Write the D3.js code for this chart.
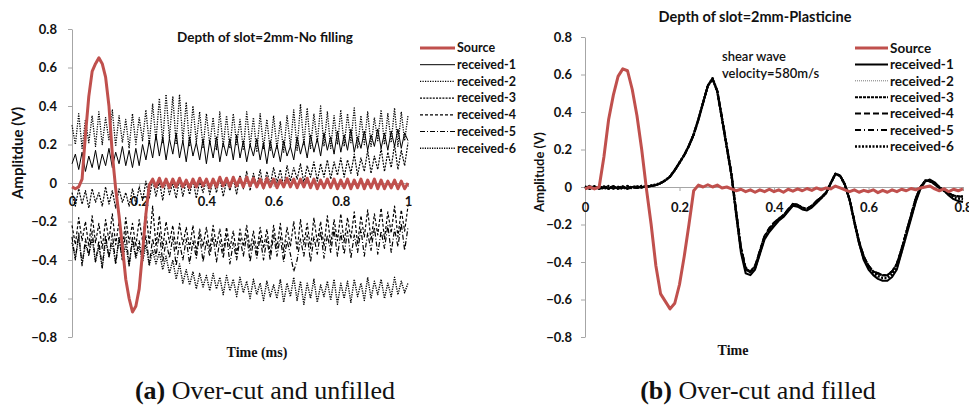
<!DOCTYPE html>
<html>
<head>
<meta charset="utf-8">
<script src="https://cdn.jsdelivr.net/npm/d3@7"></script>
<style>
  body { margin: 0; background: #fff; }
  svg text { font-family: Lato, "Open Sans", sans-serif; }
</style>
</head>
<body>
<svg id="chart" width="969" height="407"></svg>
<script>
// ---------- panel (a): no filling, sampled every 0.01 ms from 0 to 1 ms ----------
var timeA = d3.range(101).map(function(i){ return i / 100; });

var sourceA = [-0.02,-0.03,-0.02,0.02,0.25,0.45,0.58,0.62,0.65,0.62,0.55,0.40,0.15,-0.03,-0.17,-0.33,-0.50,-0.60,-0.67,-0.64,-0.55,-0.36,-0.16,-0.01,0.02,-0.02,
  0.025,-0.02,0.02,-0.025,0.02,-0.02,0.025,-0.02,0.015,-0.025,
  0.02,-0.02,0.025,-0.015,0.02,-0.025,0.02,-0.02,0.03,-0.015,
  0.025,-0.02,0.03,-0.015,0.025,-0.02,0.03,-0.015,0.025,-0.02,
  0.02,-0.025,0.025,-0.02,0.02,-0.025,0.015,-0.02,0.025,-0.02,
  0.02,-0.025,0.02,-0.02,0.025,-0.025,0.02,-0.03,0.015,-0.025,
  0.02,-0.025,0.02,-0.03,0.015,-0.025,0.02,-0.03,0.015,-0.025,
  0.02,-0.03,0.015,-0.025,0.02,-0.03,0.015,-0.03,0.01,-0.025,
  0.015,-0.03,0.01,-0.03,0.0];

var recA1 = [0.10,0.15,0.07,0.16,0.06,0.14,0.08,0.17,0.07,0.15,0.09,0.18,0.08,0.16,0.10,0.19,0.09,0.17,0.08,0.18,0.09,
  0.20,0.12,0.22,0.13,0.25,0.14,0.24,0.12,0.23,0.15,0.26,0.13,0.22,0.11,0.24,0.14,0.21,0.12,0.23,0.10,
  0.22,0.13,0.24,0.11,0.21,0.14,0.23,0.12,0.25,0.13,0.22,0.11,0.20,0.14,0.23,0.12,0.21,0.10,0.22,0.13,
  0.20,0.11,0.22,0.14,0.19,0.12,0.24,0.15,0.22,0.13,0.25,0.16,0.23,0.14,0.26,0.17,0.24,0.15,0.27,0.16,
  0.25,0.17,0.28,0.16,0.24,0.18,0.27,0.17,0.25,0.19,0.28,0.18,0.26,0.17,0.27,0.19,0.28,0.18,0.26,0.22];

var recA2 = [0.30,0.20,0.36,0.18,0.33,0.21,0.35,0.19,0.37,0.20,0.34,0.22,0.38,0.19,0.35,0.21,0.33,0.18,0.36,0.20,0.34,
  0.22,0.38,0.20,0.41,0.22,0.44,0.21,0.46,0.23,0.45,0.20,0.46,0.22,0.42,0.19,0.40,0.21,0.37,0.18,0.36,
  0.20,0.34,0.17,0.37,0.19,0.35,0.18,0.36,0.20,0.33,0.17,0.37,0.19,0.34,0.16,0.36,0.18,0.33,0.17,0.35,
  0.18,0.32,0.16,0.35,0.19,0.38,0.17,0.41,0.20,0.39,0.18,0.36,0.21,0.40,0.19,0.37,0.18,0.35,0.20,0.38,
  0.19,0.36,0.21,0.39,0.18,0.35,0.20,0.37,0.19,0.34,0.22,0.38,0.20,0.36,0.21,0.39,0.19,0.37,0.22,0.35];

var recA3 = [-0.05,-0.12,-0.03,-0.11,-0.04,-0.13,-0.03,-0.10,-0.05,-0.12,-0.02,-0.11,-0.04,-0.13,-0.03,-0.10,-0.05,-0.12,-0.03,-0.11,-0.02,
  -0.09,0.01,-0.08,0.02,-0.07,0.01,-0.09,0.02,-0.06,0.00,-0.08,0.02,-0.07,0.01,-0.06,0.02,-0.08,0.01,-0.05,0.02,
  -0.06,0.02,-0.05,0.03,-0.07,0.01,-0.04,0.03,-0.06,0.04,-0.03,0.06,-0.04,0.05,-0.02,0.07,-0.03,0.06,-0.01,0.08,
  0.00,0.07,-0.02,0.09,0.01,0.08,0.02,0.10,0.00,0.09,0.03,0.11,0.01,0.10,0.03,0.12,0.02,0.11,0.04,0.13,
  0.03,0.12,0.05,0.15,0.04,0.13,0.06,0.17,0.05,0.14,0.07,0.18,0.06,0.16,0.08,0.20,0.07,0.17,0.09,0.21];

var recA4 = [-0.22,-0.32,-0.18,-0.30,-0.20,-0.33,-0.17,-0.31,-0.21,-0.34,-0.19,-0.30,-0.16,-0.32,-0.20,-0.35,-0.18,-0.31,-0.21,-0.33,-0.19,
  -0.30,-0.14,-0.32,-0.12,-0.33,-0.17,-0.34,-0.20,-0.31,-0.22,-0.35,-0.21,-0.32,-0.23,-0.34,-0.22,-0.36,-0.24,-0.33,-0.23,
  -0.35,-0.22,-0.33,-0.24,-0.36,-0.23,-0.34,-0.25,-0.37,-0.24,-0.33,-0.22,-0.35,-0.25,-0.36,-0.23,-0.34,-0.24,-0.37,-0.22,
  -0.34,-0.21,-0.36,-0.23,-0.33,-0.20,-0.35,-0.19,-0.32,-0.21,-0.34,-0.18,-0.31,-0.20,-0.33,-0.17,-0.32,-0.19,-0.30,-0.16,
  -0.31,-0.18,-0.29,-0.15,-0.32,-0.17,-0.28,-0.14,-0.30,-0.16,-0.27,-0.13,-0.29,-0.15,-0.26,-0.12,-0.28,-0.14,-0.25,-0.12];

var recA5 = [-0.28,-0.40,-0.26,-0.43,-0.29,-0.38,-0.25,-0.41,-0.30,-0.44,-0.27,-0.39,-0.26,-0.42,-0.29,-0.40,-0.25,-0.43,-0.28,-0.38,-0.30,
  -0.40,-0.27,-0.42,-0.29,-0.38,-0.26,-0.41,-0.30,-0.39,-0.28,-0.43,-0.31,-0.40,-0.29,-0.42,-0.30,-0.39,-0.27,-0.41,-0.30,
  -0.38,-0.28,-0.41,-0.30,-0.39,-0.27,-0.42,-0.31,-0.40,-0.29,-0.38,-0.27,-0.41,-0.30,-0.39,-0.28,-0.40,-0.29,-0.40,-0.27,
  -0.38,-0.28,-0.41,-0.30,-0.37,-0.46,-0.40,-0.29,-0.38,-0.27,-0.41,-0.28,-0.37,-0.25,-0.39,-0.27,-0.36,-0.24,-0.38,-0.26,
  -0.37,-0.25,-0.39,-0.27,-0.36,-0.24,-0.38,-0.26,-0.35,-0.23,-0.37,-0.25,-0.34,-0.22,-0.36,-0.24,-0.33,-0.21,-0.35,-0.23];

var recA6 = [-0.31,-0.39,-0.28,-0.42,-0.32,-0.37,-0.29,-0.41,-0.33,-0.44,-0.30,-0.38,-0.31,-0.42,-0.28,-0.40,-0.32,-0.43,-0.30,-0.39,-0.33,
  -0.41,-0.32,-0.43,-0.35,-0.42,-0.36,-0.45,-0.38,-0.47,-0.40,-0.50,-0.42,-0.52,-0.45,-0.53,-0.46,-0.55,-0.47,-0.54,-0.48,
  -0.56,-0.47,-0.55,-0.49,-0.58,-0.48,-0.56,-0.50,-0.59,-0.49,-0.57,-0.51,-0.60,-0.50,-0.58,-0.52,-0.61,-0.51,-0.59,-0.53,
  -0.60,-0.50,-0.62,-0.52,-0.59,-0.49,-0.61,-0.51,-0.63,-0.52,-0.60,-0.50,-0.62,-0.53,-0.59,-0.51,-0.61,-0.50,-0.63,-0.52,
  -0.60,-0.51,-0.62,-0.50,-0.59,-0.52,-0.61,-0.49,-0.60,-0.51,-0.58,-0.50,-0.60,-0.52,-0.59,-0.49,-0.58,-0.51,-0.57,-0.52];

// ---------- panel (b): plasticine, sampled every 0.01 from 0 to 0.8 ----------
var timeB = d3.range(81).map(function(i){ return i / 100; });

var sourceB = [-0.01,0.0,-0.01,0.0,0.16,0.36,0.49,0.59,0.63,0.62,
  0.52,0.38,0.20,-0.01,-0.20,-0.42,-0.57,-0.61,-0.65,-0.62,
  -0.52,-0.37,-0.20,-0.02,0.01,0.0,0.012,0.0,0.01,-0.005,
  0.0,-0.01,-0.02,-0.012,-0.025,-0.015,-0.028,-0.015,-0.025,-0.012,
  -0.025,-0.015,-0.028,-0.012,-0.022,-0.01,-0.02,-0.008,-0.018,-0.005,
  -0.015,-0.005,-0.01,0.005,-0.005,-0.015,-0.025,-0.015,-0.028,-0.018,
  -0.025,-0.015,-0.03,-0.018,-0.028,-0.015,-0.025,-0.012,-0.02,-0.008,
  -0.015,-0.005,0.0,0.005,-0.01,-0.02,-0.01,-0.025,-0.012,-0.02,-0.01];

var recB1 = [0.0,-0.01,0.005,-0.01,0.0,-0.01,0.005,-0.01,0.0,-0.01,
  0.0,-0.005,0.0,0.0,0.005,0.01,0.02,0.035,0.055,0.09,
  0.13,0.17,0.22,0.28,0.36,0.45,0.54,0.58,0.51,0.36,
  0.21,0.06,-0.15,-0.35,-0.46,-0.47,-0.44,-0.36,-0.28,-0.24,
  -0.21,-0.18,-0.16,-0.13,-0.10,-0.105,-0.12,-0.125,-0.11,-0.085,
  -0.06,-0.035,0.02,0.07,0.06,0.01,-0.07,-0.19,-0.30,-0.39,
  -0.44,-0.47,-0.49,-0.50,-0.50,-0.48,-0.44,-0.35,-0.26,-0.17,
  -0.08,-0.01,0.03,0.04,0.025,0.0,-0.02,-0.045,-0.065,-0.075,-0.08];

var recB2 = [-0.01,0.0,-0.005,0.005,-0.01,0.0,-0.01,0.005,-0.01,0.0,
  -0.005,0.0,0.005,0.0,0.01,0.012,0.022,0.037,0.057,0.09,
  0.13,0.17,0.22,0.28,0.36,0.45,0.54,0.57,0.51,0.37,
  0.22,0.07,-0.13,-0.32,-0.43,-0.45,-0.42,-0.34,-0.26,-0.22,
  -0.19,-0.17,-0.15,-0.12,-0.09,-0.095,-0.11,-0.115,-0.10,-0.075,
  -0.055,-0.03,0.02,0.07,0.06,0.015,-0.065,-0.18,-0.29,-0.37,
  -0.42,-0.45,-0.46,-0.47,-0.47,-0.45,-0.41,-0.33,-0.24,-0.15,
  -0.06,0.0,0.035,0.03,0.015,-0.005,-0.02,-0.035,-0.045,-0.05,-0.05];

var recB3 = [0.005,-0.01,0.0,-0.005,0.005,-0.01,0.0,-0.005,0.005,-0.01,
  0.0,0.005,-0.005,0.005,0.005,0.01,0.02,0.036,0.056,0.09,
  0.13,0.17,0.22,0.28,0.36,0.45,0.54,0.575,0.51,0.365,
  0.215,0.065,-0.14,-0.33,-0.44,-0.455,-0.425,-0.345,-0.265,-0.225,
  -0.195,-0.17,-0.15,-0.12,-0.09,-0.095,-0.11,-0.115,-0.10,-0.075,
  -0.055,-0.03,0.02,0.07,0.06,0.015,-0.065,-0.18,-0.29,-0.37,
  -0.42,-0.45,-0.465,-0.47,-0.47,-0.45,-0.41,-0.33,-0.24,-0.15,
  -0.06,0.0,0.035,0.03,0.015,-0.005,-0.02,-0.035,-0.045,-0.05,-0.05];

var recB4 = [-0.005,0.005,-0.01,0.0,-0.005,0.005,-0.01,0.0,-0.005,0.005,
  -0.01,0.0,0.0,0.005,0.005,0.01,0.02,0.035,0.055,0.09,
  0.13,0.17,0.22,0.28,0.36,0.45,0.54,0.575,0.51,0.37,
  0.22,0.07,-0.13,-0.32,-0.43,-0.45,-0.42,-0.34,-0.26,-0.22,
  -0.19,-0.17,-0.15,-0.12,-0.09,-0.095,-0.11,-0.115,-0.10,-0.075,
  -0.055,-0.03,0.02,0.07,0.06,0.015,-0.065,-0.18,-0.29,-0.37,
  -0.42,-0.45,-0.46,-0.47,-0.47,-0.45,-0.41,-0.33,-0.24,-0.15,
  -0.06,0.0,0.035,0.03,0.015,-0.005,-0.02,-0.035,-0.045,-0.05,-0.05];

var recB5 = [0.0,-0.005,0.005,-0.01,0.0,-0.005,0.005,-0.01,0.0,-0.005,
  0.005,-0.005,0.0,0.0,0.005,0.01,0.02,0.035,0.056,0.09,
  0.13,0.17,0.22,0.28,0.36,0.45,0.54,0.575,0.51,0.37,
  0.22,0.07,-0.13,-0.32,-0.435,-0.45,-0.42,-0.34,-0.26,-0.22,
  -0.19,-0.17,-0.15,-0.12,-0.09,-0.095,-0.11,-0.115,-0.10,-0.075,
  -0.055,-0.03,0.02,0.07,0.06,0.015,-0.065,-0.18,-0.29,-0.37,
  -0.42,-0.45,-0.46,-0.47,-0.47,-0.45,-0.41,-0.33,-0.24,-0.15,
  -0.06,0.0,0.035,0.03,0.015,-0.005,-0.02,-0.035,-0.045,-0.05,-0.05];

var recB6 = [-0.01,0.005,-0.005,0.0,-0.01,0.005,-0.005,0.0,-0.01,0.005,
  -0.005,0.0,0.005,0.0,0.008,0.012,0.022,0.036,0.056,0.09,
  0.13,0.17,0.22,0.28,0.36,0.45,0.54,0.58,0.51,0.365,
  0.215,0.065,-0.14,-0.33,-0.44,-0.455,-0.43,-0.35,-0.27,-0.23,
  -0.2,-0.175,-0.155,-0.125,-0.095,-0.1,-0.115,-0.12,-0.105,-0.08,
  -0.058,-0.032,0.02,0.07,0.06,0.012,-0.068,-0.185,-0.295,-0.38,
  -0.43,-0.46,-0.475,-0.485,-0.485,-0.465,-0.425,-0.34,-0.25,-0.16,
  -0.07,-0.005,0.032,0.035,0.02,-0.002,-0.02,-0.04,-0.055,-0.062,-0.065];

var yTicks = [-0.8,-0.6,-0.4,-0.2,0,0.2,0.4,0.6,0.8];
var xTicksA = [0,0.2,0.4,0.6,0.8,1];
var xTicksB = [0,0.2,0.4,0.6,0.8];
var legendNames = ["Source","received-1","received-2","received-3","received-4","received-5","received-6"];

var red = "#c0504d",
    axisGray = "#a6a6a6";

var svg = d3.select("#chart");
svg.append("rect").attr("width", 969).attr("height", 407).attr("fill", "#fff");

// panel a
drawPanel({
  x: d3.scaleLinear().domain([0, 1]).range([72, 408]),
  y: d3.scaleLinear().domain([-0.8, 0.8]).range([337, 29]),
  xTicks: xTicksA, tickPad: 11, xTickPad: 10,
  time: timeA, source: sourceA,
  received: [recA1, recA2, recA3, recA4, recA5, recA6],
  styles: [
    {w: 1, dash: null},
    {w: 1.3, dash: "1.2,1.3"},
    {w: 1.2, dash: "2,1.2"},
    {w: 1.2, dash: "3,2"},
    {w: 1.2, dash: "5,2,1,2"},
    {w: 1.4, dash: "1.2,1.2"}
  ],
  srcWidth: 3,
  title: "Depth of slot=2mm-No filling", titleX: 265, titleY: 42, titleSize: 13.5,
  yLabel: "Amplitdue (V)", yLabelX: 23, yLabelY: 153, yLabelSize: 15,
  xLabel: "Time  (ms)", xLabelX: 257, xLabelY: 357,
  legendX: 420, legendX2: 455, legendY: 48, legendStep: 16.7, legendSize: 12.5
});

// panel b
drawPanel({
  x: d3.scaleLinear().domain([0, 0.8]).range([585, 963]),
  y: d3.scaleLinear().domain([-0.8, 0.8]).range([337, 37]),
  xTicks: xTicksB, tickPad: 9, xTickPad: 12,
  time: timeB, source: sourceB,
  received: [recB1, recB2, recB3, recB4, recB5, recB6],
  styles: [
    {w: 2, dash: null},
    {w: 1, dash: "1,1", color: "#777"},
    {w: 2, dash: "3,1"},
    {w: 2, dash: "6,3"},
    {w: 2, dash: "6,3,1,3"},
    {w: 2.5, dash: "2,1.5"}
  ],
  srcWidth: 3,
  title: "Depth of slot=2mm-Plasticine", titleX: 755, titleY: 22, titleSize: 14.5,
  yLabel: "Amplitude (V)", yLabelX: 544, yLabelY: 172, yLabelSize: 13,
  xLabel: "Time", xLabelX: 733, xLabelY: 355,
  legendX: 855, legendX2: 888, legendY: 48, legendStep: 16.4, legendSize: 13.5
});

// annotation in panel b
var note = svg.append("text")
    .attr("x", 722).attr("y", 61)
    .attr("font-size", 13).attr("font-weight", 600)
    .attr("fill", "#111");
note.append("tspan").attr("x", 722).text("shear wave");
note.append("tspan").attr("x", 722).attr("dy", 17).text("velocity=580m/s");

// sub-figure captions
var caps = [["(a)", " Over-cut and unfilled", 265], ["(b)", " Over-cut and filled", 758]];
caps.forEach(function(c){
  var t = svg.append("text")
      .attr("x", c[2]).attr("y", 399)
      .attr("text-anchor", "middle")
      .style("font-family", "'Liberation Serif', 'DejaVu Serif', serif")
      .attr("font-size", 26).attr("fill", "#111");
  t.append("tspan").attr("font-weight", 700).text(c[0]);
  t.append("tspan").text(c[1]);
});

function drawPanel(cfg){
  var x = cfg.x, y = cfg.y;
  var g = svg.append("g");

  // y axis
  var yAxis = g.append("g")
      .attr("transform", "translate(" + x(0) + ",0)")
      .call(d3.axisLeft(y).tickValues(yTicks).tickSize(4).tickSizeOuter(0).tickPadding(cfg.tickPad)
        .tickFormat(function(d){ return d === 0 ? "0" : d3.format(".1f")(d); }));
  styleAxis(yAxis);

  // x axis sits on the zero line
  var xAxis = g.append("g")
      .attr("transform", "translate(0," + y(0) + ")")
      .call(d3.axisBottom(x).tickValues(cfg.xTicks).tickSize(4).tickSizeOuter(0).tickPadding(cfg.xTickPad)
        .tickFormat(function(d){ return d === 0 ? "0" : (d === 1 ? "1" : d3.format(".1f")(d)); }));
  styleAxis(xAxis);

  var line = d3.line()
      .x(function(d, i){ return x(cfg.time[i]); })
      .y(function(d){ return y(d); });

  // received series
  cfg.received.forEach(function(vals, k){
    var s = cfg.styles[k];
    g.append("path")
        .datum(vals)
        .attr("d", line)
        .attr("fill", "none")
        .attr("stroke", s.color || "#000")
        .attr("stroke-width", s.w)
        .attr("stroke-dasharray", s.dash)
        .attr("stroke-linejoin", "round");
  });

  // source on top
  g.append("path")
      .datum(cfg.source)
      .attr("d", line)
      .attr("fill", "none")
      .attr("stroke", red)
      .attr("stroke-width", cfg.srcWidth)
      .attr("stroke-linejoin", "round");

  // title + axis titles
  g.append("text")
      .attr("x", cfg.titleX).attr("y", cfg.titleY)
      .attr("text-anchor", "middle")
      .attr("font-size", cfg.titleSize).attr("font-weight", 700)
      .attr("fill", "#111")
      .text(cfg.title);

  g.append("text")
      .attr("transform", "translate(" + cfg.yLabelX + "," + cfg.yLabelY + ") rotate(-90)")
      .attr("text-anchor", "middle")
      .attr("font-size", cfg.yLabelSize).attr("font-weight", 700)
      .attr("fill", "#111")
      .text(cfg.yLabel);

  g.append("text")
      .attr("x", cfg.xLabelX).attr("y", cfg.xLabelY)
      .attr("text-anchor", "middle")
      .style("font-family", "'Liberation Serif', 'DejaVu Serif', serif")
      .attr("font-size", 14).attr("font-weight", 700)
      .attr("fill", "#111")
      .text(cfg.xLabel);

  // legend
  legendNames.forEach(function(name, k){
    var ly = cfg.legendY + k * cfg.legendStep;
    var s = k === 0 ? {w: cfg.srcWidth, dash: null, color: red} : cfg.styles[k - 1];
    g.append("line")
        .attr("x1", cfg.legendX).attr("x2", cfg.legendX2)
        .attr("y1", ly).attr("y2", ly)
        .attr("stroke", s.color || "#000")
        .attr("stroke-width", s.w)
        .attr("stroke-dasharray", s.dash);
    g.append("text")
        .attr("x", cfg.legendX2 + 2).attr("y", ly)
        .attr("dy", "0.35em")
        .attr("font-size", cfg.legendSize).attr("font-weight", 700)
        .attr("fill", "#111")
        .text(name);
  });
}

function styleAxis(sel){
  sel.select(".domain").attr("stroke", axisGray);
  sel.selectAll(".tick line").attr("stroke", axisGray);
  sel.selectAll(".tick text")
      .attr("fill", "#111")
      .attr("font-size", 13)
      .attr("font-weight", 700)
      .style("font-family", "Lato, 'Open Sans', sans-serif");
}
</script>
</body>
</html>
